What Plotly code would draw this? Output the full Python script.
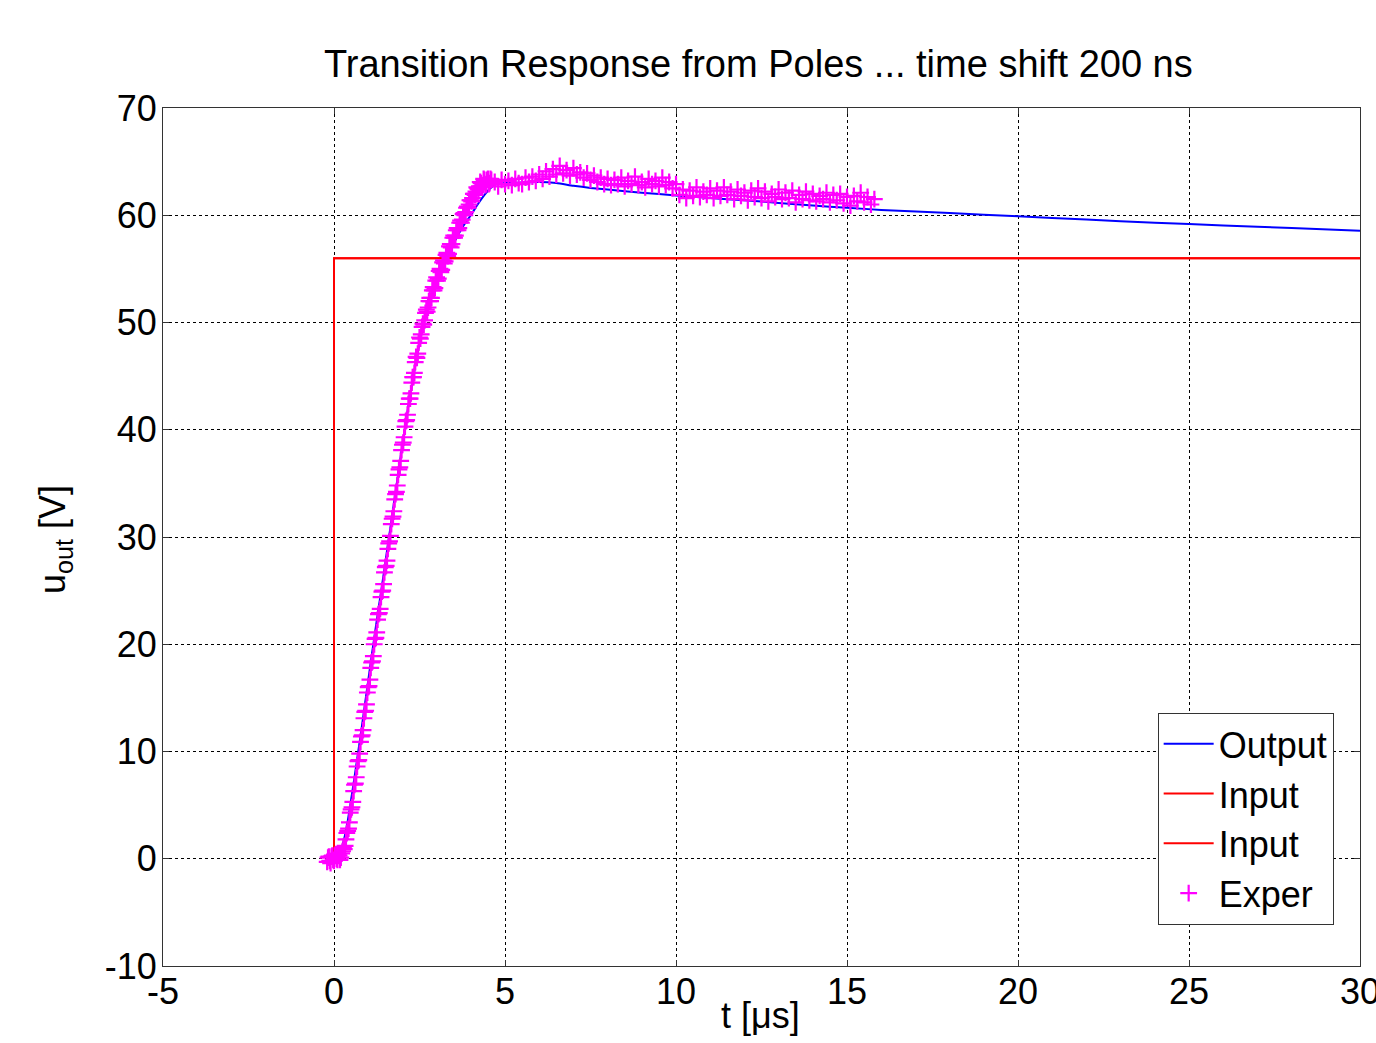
import plotly.graph_objects as go

# ---------------- data ----------------
out_t = [0, 0.1, 0.2, 0.3, 0.4, 0.5, 0.6, 0.7, 0.8, 0.9, 1.0, 1.1, 1.2, 1.3, 1.4, 1.5,
         1.6, 1.7, 1.8, 1.9, 2.0, 2.1, 2.2, 2.3, 2.4, 2.5, 2.6, 2.7, 2.8, 2.9, 3.0,
         3.2, 3.4, 3.6, 3.8, 4.0, 4.2, 4.4, 4.6, 4.8, 5.0, 5.5, 6.0, 6.5, 7.0, 7.5,
         8.0, 9.0, 10, 11, 12, 13, 14, 15, 16, 18, 20, 22, 24, 26, 28, 30]
out_v = [0, 0.2, 0.8, 1.9, 3.5, 5.5, 7.6, 9.8, 12.0, 14.3, 16.6, 18.9, 21.1, 23.3, 25.4, 27.6,
         29.8, 32.0, 34.2, 36.4, 38.6, 40.7, 42.7, 44.6, 46.4, 48.1, 49.6, 50.9, 52.0, 52.9, 53.8,
         55.3, 56.7, 58.0, 59.1, 60.0, 61.0, 61.9, 62.6, 62.95, 63.0, 63.05, 63.1, 63.0, 62.75, 62.55,
         62.4, 62.1, 61.85, 61.6, 61.4, 61.15, 60.9, 60.7, 60.5, 60.2, 59.9, 59.6, 59.3, 59.05, 58.8, 58.55]

in_t = [0, 0, 30]
in_v = [0, 56, 56]

# experimental samples (scope record)
# rise, samples at -0.200, -0.150, ... 4.600 us
exp_t_rise_a = [round(-0.2 + 0.05 * i, 3) for i in range(97)]
exp_v_rise_a = [-0.3, 0.2, -0.4, 0.3, -0.2, 0.4, -0.1, 0.3, 0.1, 0.7,
                0.9, 1.8, 2.6, 3.4, 4.6, 5.3, 6.9, 7.6, 9.1, 9.8,
                11.4, 12.0, 13.7, 14.4, 16.0, 16.7, 18.3, 18.9, 20.5, 21.1,
                22.8, 23.3, 24.9, 25.6, 27.2, 27.8, 29.4, 30.1, 31.7, 32.4,
                34.0, 34.8, 36.3, 37.1, 38.6, 39.3, 40.8, 41.4, 42.9, 43.4,
                44.9, 45.3, 46.8, 47.1, 48.6, 48.9, 49.9, 50.2, 51.2, 51.4,
                52.3, 52.3, 53.3, 53.2, 54.2, 54.1, 55.0, 54.9, 55.8, 55.7,
                56.5, 56.4, 57.3, 57.3, 58.1, 58.1, 58.8, 58.8, 59.5, 59.6,
                60.2, 60.3, 60.8, 61.0, 61.4, 61.6, 62.0, 62.2, 62.5, 62.7,
                63.0, 62.8, 63.3, 62.9, 63.4, 63.0, 63.3]
# rise, samples at -0.175, -0.125, ... 4.575 us
exp_t_rise_b = [round(-0.175 + 0.05 * i, 3) for i in range(96)]
exp_v_rise_b = [0.1, -0.2, 0.2, -0.1, 0.3, 0.0, 0.4, -0.1, 0.5, 1.1,
                1.2, 2.4, 2.8, 4.3, 4.8, 6.3, 7.0, 8.6, 9.2, 10.9,
                11.5, 13.1, 13.8, 15.5, 16.1, 17.8, 18.4, 20.0, 20.6, 22.3,
                22.9, 24.4, 25.0, 26.7, 27.3, 28.9, 29.6, 31.2, 31.9, 33.5,
                34.2, 35.8, 36.5, 38.1, 38.8, 40.3, 40.9, 42.4, 42.9, 44.4,
                44.9, 46.3, 46.7, 48.1, 48.5, 49.6, 49.8, 50.9, 51.0, 52.0,
                52.0, 53.0, 53.0, 53.9, 53.9, 54.8, 54.7, 55.6, 55.5, 56.3,
                56.2, 57.1, 57.0, 57.9, 57.9, 58.6, 58.6, 59.3, 59.3, 60.1,
                60.0, 60.7, 60.7, 61.4, 61.3, 62.0, 61.9, 62.6, 62.4, 63.1,
                62.7, 63.4, 62.8, 63.3, 62.9, 63.4]
# plateau, samples at 4.7, 4.8, ... 15.8 us
exp_t_flat = [round(4.7 + 0.1 * i, 2) for i in range(112)]
exp_v_flat = [63.1, 62.7, 63.3, 62.9, 63.2, 62.8, 63.4, 63.0, 62.9, 63.5,
              63.1, 63.6, 63.2, 63.8, 63.4, 64.1, 63.6, 64.3, 63.8, 64.6,
              63.9, 64.2, 63.7, 64.4, 63.8, 64.0, 63.5, 63.9, 63.3, 63.7,
              63.1, 63.5, 62.9, 63.4, 62.8, 63.3, 62.9, 63.5, 62.7, 63.2,
              62.9, 63.6, 62.8, 63.1, 62.6, 63.4, 62.9, 63.2, 62.7, 63.5,
              62.8, 63.1, 62.5, 62.9, 61.9, 62.4, 61.6, 62.3, 61.8, 62.6,
              61.7, 62.2, 61.9, 62.5, 61.6, 62.3, 61.8, 62.6, 61.9, 62.2,
              61.5, 62.4, 61.8, 62.1, 61.4, 62.3, 61.7, 62.5, 61.6, 62.2,
              61.3, 62.0, 61.7, 62.4, 61.5, 62.1, 61.6, 62.3, 61.2, 61.9,
              61.5, 62.2, 61.4, 62.0, 61.3, 61.8, 61.5, 62.1, 61.2, 61.9,
              61.4, 62.0, 61.1, 61.7, 60.9, 61.8, 61.3, 62.1, 61.2, 61.7,
              61.0, 61.5]

assert len(exp_t_rise_a) == len(exp_v_rise_a)
assert len(exp_t_rise_b) == len(exp_v_rise_b)
assert len(exp_t_flat) == len(exp_v_flat)

exp_pairs = sorted(zip(exp_t_rise_a + exp_t_rise_b + exp_t_flat,
                       exp_v_rise_a + exp_v_rise_b + exp_v_flat))
exp_t = [p[0] for p in exp_pairs]
exp_v = [p[1] for p in exp_pairs]

x_ticks = [-5, 0, 5, 10, 15, 20, 25, 30]
y_ticks = [-10, 0, 10, 20, 30, 40, 50, 60, 70]

title_text = "Transition Response from Poles ... time shift 200 ns"
x_label = "t [μs]"
y_label = "u<sub>out</sub> [V]"

# ---------------- figure ----------------
FONT = "Liberation Sans, Arial, sans-serif"
W, H = 1376, 1043
ML, MR, MT, MB = 163, 16, 108, 77
PW, PH = W - ML - MR, H - MT - MB

fig = go.Figure()
fig.add_trace(go.Scatter(x=out_t, y=out_v, mode="lines", name="Output",
                         line=dict(color="#0000ff", width=2, shape="spline", smoothing=0.6)))
fig.add_trace(go.Scatter(x=in_t, y=in_v, mode="lines", name="Input",
                         line=dict(color="#ff0000", width=2)))
fig.add_trace(go.Scatter(x=in_t, y=in_v, mode="lines", name="Input",
                         line=dict(color="#ff0000", width=2)))
fig.add_trace(go.Scatter(x=exp_t, y=exp_v, mode="markers", name="Exper",
                         marker=dict(symbol="cross-thin", size=12, color="#ff00ff",
                                     line=dict(color="#ff00ff", width=2.2))))

axis_common = dict(
    showgrid=True, gridcolor="#000000", griddash="dot", gridwidth=1,
    zeroline=False, showline=True, linecolor="#333333", linewidth=1, mirror="ticks",
    ticks="inside", ticklen=6, tickcolor="#333333", tickwidth=1,
    tickfont=dict(family=FONT, size=36, color="#000000"),
    ticklabeloverflow="allow",
    automargin=False,
)

fig.update_layout(
    width=W, height=H,
    margin=dict(l=ML, r=MR, t=MT, b=MB),
    paper_bgcolor="white", plot_bgcolor="white",
    font=dict(family=FONT, color="#000000"),
    showlegend=True,
    legend=dict(x=0.978, y=0.048, xanchor="right", yanchor="bottom",
                bgcolor="white", bordercolor="#333333", borderwidth=1,
                font=dict(family=FONT, size=36, color="#000000"),
                tracegroupgap=0, itemwidth=50),
    xaxis=dict(range=[-5, 30], tickvals=x_ticks, ticktext=[str(v) for v in x_ticks],
               ticklabelstandoff=-6, **axis_common),
    yaxis=dict(range=[-10, 70], tickvals=y_ticks, ticktext=[str(v) for v in y_ticks],
               ticklabelstandoff=-2, **axis_common),
    annotations=[
        dict(text=title_text, xref="paper", yref="paper", x=(758 - ML) / PW, y=(H - MB - 64) / PH,
             xanchor="center", yanchor="middle", showarrow=False,
             font=dict(family=FONT, size=38, color="#000000")),
        dict(text=x_label, xref="paper", yref="paper", x=(760 - ML) / PW, y=(H - MB - 1016) / PH,
             xanchor="center", yanchor="middle", showarrow=False,
             font=dict(family=FONT, size=36, color="#000000")),
        dict(text=y_label, xref="paper", yref="paper", x=(55 - ML) / PW, y=(H - MB - 540) / PH,
             xanchor="center", yanchor="middle", showarrow=False, textangle=-90,
             font=dict(family=FONT, size=36, color="#000000")),
    ],
)

fig.write_html("out.html")
